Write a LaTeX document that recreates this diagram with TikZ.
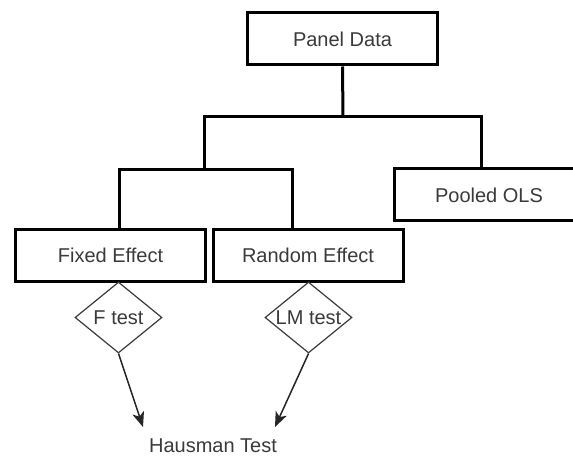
\documentclass[tikz,border=0pt]{standalone}
\usepackage{fontspec}
\setmainfont{Liberation Sans}
\usepackage{tikz}
\usetikzlibrary{arrows.meta}
\usetikzlibrary {shapes.geometric}

\definecolor{txtgray}{HTML}{3A3A3A}

\begin{document}
\begin{tikzpicture}[x=1pt, y=-1pt,
    box/.style={draw, line width=3pt, minimum width=190pt, minimum height=52pt, inner sep=0pt, text=txtgray, font=\fontsize{20pt}{24pt}\selectfont},
    testbox/.style={diamond, draw=txtgray, line width=1.2pt, minimum width=87pt, minimum height=71pt, inner sep=0pt, text=txtgray, font=\fontsize{20pt}{24pt}\selectfont},
    wire/.style={line width=3pt},
    arrow/.style={line width=1.5pt, draw=black!85, -{Stealth[length=15pt, width=12pt, inset=4pt]}}]
    % Fix the size of the picture
    \useasboundingbox (0,0) rectangle (573,457);
    \clip (0,0) rectangle (573,457);

    % Draw the boxes
    \node[box] (panel) at (342.5,39) {Panel Data};
    \node[box] (pooled) at (489,195) {Pooled OLS};
    \node[box] (fixed) at (110.5,255.5) {Fixed Effect};
    \node[box] (random) at (308,255.5) {Random Effect};

    % Draw the tests
    \node[testbox] (ftest) at (118.5,317.5) {\makebox[0pt]{F test}};
    \node[testbox] (lmtest) at (308.5,317.5) {\makebox[0pt]{LM test}};
    \node[text=txtgray, font=\fontsize{20pt}{24pt}\selectfont] (hausman) at (213,446) {Hausman Test};

    % Points where the lines split
    \coordinate (bar) at (343,117);
    \coordinate (sub) at (204,170);
    \coordinate (hL) at (143,427);
    \coordinate (hR) at (275,427);

    % Draw the tree lines
    \draw[wire] (panel.south) -- (bar);
    \draw[wire] (sub) |- (bar) -| ([xshift=-8pt]pooled.north);
    \draw[wire] ([xshift=9pt]fixed.north) |- (sub) -| ([xshift=-16pt]random.north);

    % Draw arrows to the Hausman test
    \draw[arrow] (ftest.south) -- (hL);
    \draw[arrow] (lmtest.south) -- (hR);
\end{tikzpicture}
\end{document}
